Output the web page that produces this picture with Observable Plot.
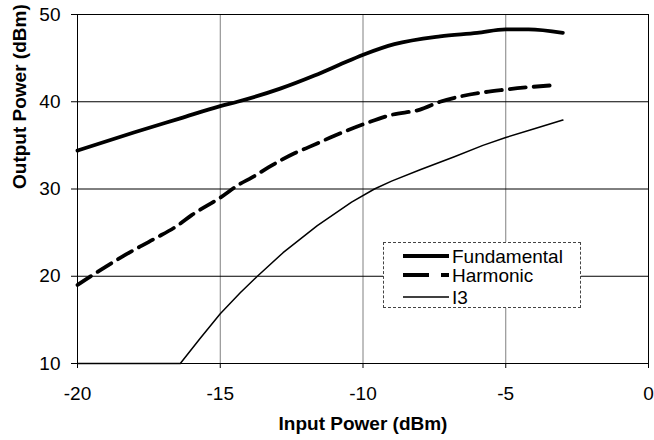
<!DOCTYPE html>
<html><head><meta charset="utf-8">
<script src="https://cdn.jsdelivr.net/npm/d3@7"></script>
<script src="https://cdn.jsdelivr.net/npm/@observablehq/plot@0.6"></script>
<style>
body{margin:0;background:#fff;}
#wrap{position:relative;width:654px;height:440px;font-family:"Liberation Sans",Arial,sans-serif;}
#legend{position:absolute;left:383px;top:242px;width:198px;height:66px;border:1px dashed #444;background:#fff;box-sizing:border-box;}
</style></head><body><div id="wrap"></div>
<script>
// ---- data ----
const seriesNames = ["Fundamental", "Harmonic", "I3"];
const fundX = [-20, -18, -16.4, -15, -14.4, -12.9, -11.7, -10.5, -9.9, -8.9, -7.3, -6, -5, -4.2, -3];
const fundY = [34.4, 36.5, 38.1, 39.5, 40.0, 41.5, 43.0, 44.7, 45.5, 46.6, 47.5, 47.9, 48.3, 48.3, 47.9];
const harmX = [-20, -19.2, -18.3, -17.3, -16.5, -16, -15, -14.3, -13.9, -13.3, -12.4, -11.9, -11, -10, -9, -8, -7.3, -6.6, -5, -3.3];
const harmY = [19.0, 20.7, 22.5, 24.3, 25.8, 27.0, 29.0, 30.6, 31.3, 32.5, 34.1, 34.8, 36.1, 37.4, 38.5, 39.1, 40.0, 40.6, 41.4, 41.9];
const i3X = [-20, -16.4, -15.7, -15, -14.3, -13.7, -12.8, -11.6, -10.4, -9.6, -9.0, -8, -6.8, -5.8, -5, -4, -3];
const i3Y = [10, 10, 12.9, 15.7, 18.1, 20.0, 22.7, 25.8, 28.5, 30.0, 30.9, 32.2, 33.7, 35.0, 35.9, 36.9, 37.9];
const xTicks = [-20, -15, -10, -5, 0];
const yTicks = [10, 20, 30, 40, 50];
const xTitle = "Input Power (dBm)";
const yTitle = "Output Power (dBm)";

const rows = (name, xs, ys) => xs.map((x, i) => ({series: name, x, y: ys[i]}));
const fund = rows(seriesNames[0], fundX, fundY);
const harm = rows(seriesNames[1], harmX, harmY);
const i3 = rows(seriesNames[2], i3X, i3Y);

const font = '"Liberation Sans", Arial, sans-serif';
const chart = Plot.plot({
  width: 654, height: 440,
  marginLeft: 77, marginRight: 6, marginTop: 14, marginBottom: 77,
  style: {fontFamily: font, fontSize: "19px", color: "#000", background: "#fff", overflow: "visible"},
  x: {domain: [-20, 0]},
  y: {domain: [10, 50]},
  marks: [
    Plot.gridX(xTicks.slice(1, -1), {stroke: "#808080", strokeOpacity: 1}),
    Plot.gridY(yTicks.slice(1, -1), {stroke: "#000", strokeOpacity: 1}),
    Plot.frame({stroke: "#000"}),
    Plot.axisX(xTicks, {tickSize: 5, tickPadding: 18, label: null, tickFormat: d => String(d), fontSize: 19}),
    Plot.axisY(yTicks, {tickSize: 6, tickPadding: 11, label: null, tickFormat: d => String(d), fontSize: 19}),
    Plot.line(fund, {x: "x", y: "y", stroke: "#000", strokeWidth: 3.8, curve: "monotone-x"}),
    Plot.line(harm, {x: "x", y: "y", stroke: "#000", strokeWidth: 3.8, strokeDasharray: "16,8", curve: "monotone-x"}),
    Plot.line(i3, {x: "x", y: "y", stroke: "#000", strokeWidth: 1.5, curve: "linear"}),
    Plot.text([xTitle], {text: d => d, frameAnchor: "bottom", dy: 66, fontWeight: "bold", fontSize: 19}),
    Plot.text([yTitle], {text: d => d, frameAnchor: "left", dx: -58, rotate: -90, fontWeight: "bold", fontSize: 19})
  ]
});
const wrap = document.getElementById("wrap");
wrap.appendChild(chart);

// legend
const legend = document.createElement("div");
legend.id = "legend";
const styles = [
  {w: 3.8, dash: null},
  {w: 3.8, dash: "26,12"},
  {w: 1.5, dash: null}
];
const rowY = [13, 32, 54];
let svg = '<svg width="196" height="64" xmlns="http://www.w3.org/2000/svg" style="position:absolute;left:0;top:0">';
seriesNames.forEach((name, i) => {
  svg += `<line x1="19" x2="65" y1="${rowY[i]}" y2="${rowY[i]}" stroke="#000" stroke-width="${styles[i].w}"${styles[i].dash ? ` stroke-dasharray="${styles[i].dash}"` : ""}/>`;
  svg += `<text x="68" y="${rowY[i]}" dy="0.35em" font-size="19" font-family='${font}' fill="#000">${name}</text>`;
});
svg += '</svg>';
legend.innerHTML = svg;
wrap.appendChild(legend);
</script>
</body></html>
